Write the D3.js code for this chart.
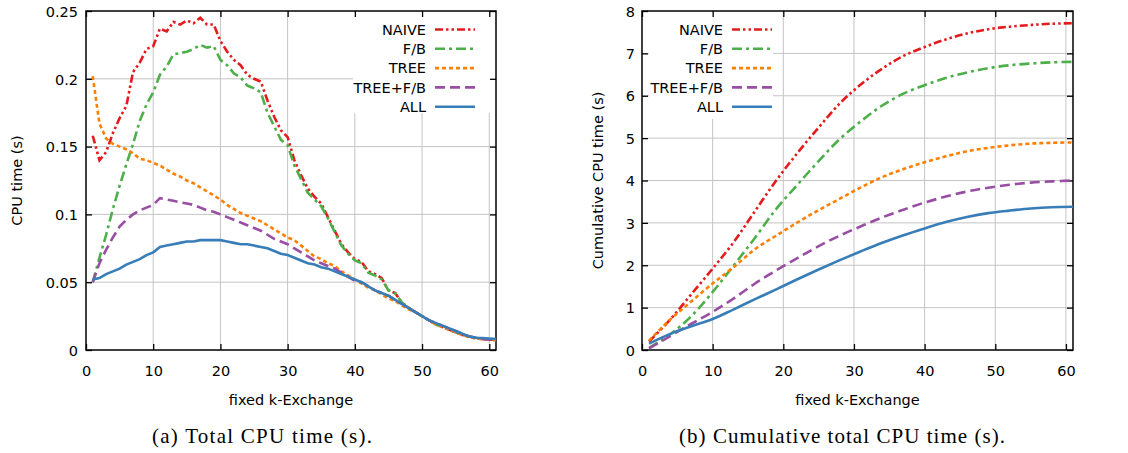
<!DOCTYPE html>
<html>
<head>
<meta charset="utf-8">
<script src="https://cdn.jsdelivr.net/npm/d3@7"></script>
<style>
body { margin: 0; background: #fff; }
text { font-family: "DejaVu Sans", sans-serif; fill: #000; }
.caption { font-family: "Liberation Serif", serif; }
</style>
</head>
<body>
<script>
const width = 1128;
const height = 453;

// series meta
const seriesNames = ["NAIVE", "F/B", "TREE", "TREE+F/B", "ALL"];
const seriesColors = ["#e41a1c", "#4daf4a", "#ff7f00", "#984ea3", "#377eb8"];
const seriesDash = ["8,3,2.5,3,2.5,3", "10,4,3,4", "4,3", "10,5", null];

// (a) total CPU time per k
const kSteps = d3.range(1, 62);
const totalNaive = [0.158,0.140,0.146,0.160,0.171,0.180,0.205,0.212,0.222,0.224,
  0.237,0.235,0.242,0.240,0.243,0.241,0.245,0.240,0.240,0.228,
  0.220,0.214,0.210,0.203,0.200,0.198,0.184,0.172,0.162,0.157,
  0.140,0.129,0.119,0.113,0.108,0.098,0.088,0.078,0.072,0.067,
  0.065,0.058,0.056,0.053,0.044,0.042,0.035,0.031,0.028,0.025,
  0.022,0.019,0.017,0.015,0.013,0.011,0.010,0.009,0.008,0.0078,0.0074];
const totalFB = [0.050,0.068,0.085,0.104,0.121,0.137,0.152,0.169,0.181,0.190,
  0.203,0.209,0.218,0.219,0.220,0.222,0.225,0.223,0.224,0.214,
  0.210,0.204,0.201,0.195,0.193,0.190,0.175,0.165,0.155,0.151,
  0.136,0.126,0.116,0.111,0.106,0.097,0.087,0.077,0.071,0.066,
  0.064,0.057,0.055,0.052,0.044,0.042,0.035,0.031,0.028,0.025,
  0.022,0.019,0.017,0.015,0.013,0.011,0.010,0.009,0.008,0.0078,0.0074];
const totalTree = [0.202,0.167,0.156,0.152,0.150,0.148,0.145,0.141,0.140,0.138,
  0.136,0.133,0.130,0.128,0.125,0.123,0.120,0.117,0.114,0.111,
  0.107,0.104,0.101,0.099,0.097,0.095,0.092,0.089,0.086,0.083,
  0.081,0.077,0.073,0.069,0.067,0.064,0.062,0.058,0.055,0.052,
  0.049,0.046,0.044,0.041,0.038,0.036,0.033,0.030,0.028,0.025,
  0.022,0.019,0.017,0.015,0.013,0.011,0.0095,0.0085,0.008,0.0075,0.0072];
const totalTreeFB = [0.050,0.064,0.074,0.083,0.091,0.096,0.100,0.103,0.105,0.107,
  0.112,0.111,0.110,0.109,0.108,0.107,0.105,0.103,0.102,0.100,
  0.098,0.096,0.094,0.092,0.090,0.088,0.085,0.082,0.080,0.078,
  0.075,0.072,0.069,0.066,0.064,0.062,0.060,0.057,0.054,0.051,
  0.050,0.047,0.044,0.042,0.040,0.037,0.034,0.031,0.028,0.025,
  0.022,0.020,0.018,0.016,0.014,0.012,0.010,0.009,0.0082,0.0076,0.0072];
const totalAll = [0.052,0.053,0.056,0.058,0.060,0.063,0.065,0.067,0.070,0.072,
  0.076,0.077,0.078,0.079,0.080,0.080,0.081,0.081,0.081,0.081,
  0.080,0.079,0.078,0.078,0.077,0.076,0.075,0.073,0.071,0.070,
  0.068,0.066,0.064,0.063,0.061,0.060,0.058,0.056,0.054,0.052,
  0.050,0.047,0.044,0.042,0.040,0.037,0.034,0.031,0.028,0.025,
  0.022,0.020,0.018,0.016,0.014,0.012,0.010,0.009,0.0088,0.0085,0.008];

// (b) cumulative CPU time
const cumK = [1,4,7,10,13,16,19,22,25,28,31,34,37,40,43,46,49,52,55,58,61];
const cumNaive = [0.20,0.72,1.32,1.92,2.55,3.28,4.00,4.65,5.25,5.82,6.27,6.64,6.94,7.15,7.33,7.47,7.57,7.63,7.67,7.70,7.71];
const cumFB = [0.05,0.37,0.80,1.37,2.00,2.65,3.33,3.90,4.46,4.98,5.40,5.77,6.05,6.25,6.42,6.55,6.65,6.72,6.76,6.79,6.80];
const cumTree = [0.22,0.72,1.15,1.57,1.96,2.38,2.70,3.01,3.30,3.57,3.84,4.08,4.27,4.43,4.57,4.69,4.77,4.83,4.87,4.89,4.90];
const cumTreeFB = [0.04,0.33,0.62,0.90,1.22,1.57,1.88,2.17,2.45,2.70,2.92,3.13,3.31,3.48,3.62,3.74,3.83,3.90,3.95,3.98,4.00];
const cumAll = [0.15,0.38,0.56,0.73,0.96,1.20,1.43,1.67,1.90,2.12,2.33,2.53,2.71,2.87,3.02,3.14,3.23,3.29,3.34,3.37,3.38];

const xTicks = [0, 10, 20, 30, 40, 50, 60];
const yTicksA = [0, 0.05, 0.1, 0.15, 0.2, 0.25];
const yTicksB = [0, 1, 2, 3, 4, 5, 6, 7, 8];

const svg = d3.select('body')
  .append('svg')
  .attr('width', width)
  .attr('height', height);

function drawPanel(p) {
  const x = d3.scaleLinear().domain([0, 61]).range([p.left, p.right]);
  const y = d3.scaleLinear().domain(p.yDomain).range([350, 11]);
  const g = svg.append('g');
  const top = y.range()[1], bottom = y.range()[0];

  // grid
  g.selectAll('.gx').data(xTicks.filter(d => d > 0)).join('line')
    .attr('x1', d => x(d)).attr('x2', d => x(d))
    .attr('y1', bottom).attr('y2', top)
    .attr('stroke', '#c4c4c4').attr('stroke-width', 1);
  g.selectAll('.gy').data(p.yTicks.filter(d => d > p.yDomain[0] && d < p.yDomain[1])).join('line')
    .attr('x1', p.left).attr('x2', p.right)
    .attr('y1', d => y(d)).attr('y2', d => y(d))
    .attr('stroke', '#c4c4c4').attr('stroke-width', 1);

  // legend background
  g.append('rect')
    .attr('x', p.legendBox[0]).attr('y', top + 1)
    .attr('width', p.legendBox[1] - p.legendBox[0])
    .attr('height', p.legendBox[2] - top)
    .attr('fill', '#fff');

  // axes with inward ticks
  const axes = [
    [d3.axisBottom(x).tickValues(xTicks).tickSize(-6).tickPadding(16), `translate(0,${bottom})`, false],
    [d3.axisTop(x).tickValues(xTicks).tickSize(-6).tickFormat(''), `translate(0,${top})`, false],
    [d3.axisLeft(y).tickValues(p.yTicks).tickSize(-6).tickPadding(p.yPad).tickFormat(p.yFormat), `translate(${p.left},0)`, true],
    [d3.axisRight(y).tickValues(p.yTicks).tickSize(-6).tickFormat(''), `translate(${p.right},0)`, false]
  ];
  axes.forEach(([ax, tr, isLeft]) => {
    const a = g.append('g').attr('transform', tr).call(ax);
    a.select('.domain').remove();
    a.selectAll('line').attr('stroke', '#000').attr('stroke-width', 1.3);
    a.selectAll('text').attr('font-size', '14.5px').attr('font-family', '"DejaVu Sans", sans-serif').attr('fill', '#000');
    if (isLeft) a.selectAll('text').attr('dy', '0.36em');
  });

  // frame
  g.append('rect')
    .attr('x', p.left).attr('y', top)
    .attr('width', p.right - p.left).attr('height', bottom - top)
    .attr('fill', 'none').attr('stroke', '#000').attr('stroke-width', 1.5);

  // series lines
  const line = d3.line()
    .x(d => x(d[0])).y(d => y(d[1]))
    .curve(p.curve);
  p.series.forEach((vals, i) => {
    g.append('path')
      .datum(p.xs.map((k, j) => [k, vals[j]]))
      .attr('d', line)
      .attr('fill', 'none')
      .attr('stroke', seriesColors[i])
      .attr('stroke-width', 2.6)
      .attr('stroke-dasharray', seriesDash[i]);
  });

  // legend
  seriesNames.forEach((name, i) => {
    const ly = 29.5 + i * 19.3;
    g.append('text')
      .attr('x', p.legendX).attr('y', ly).attr('dy', '0.36em')
      .attr('text-anchor', 'end')
      .attr('font-size', '14.5px')
      .text(name);
    g.append('line')
      .attr('x1', p.legendX + 9).attr('x2', p.legendX + 49)
      .attr('y1', ly).attr('y2', ly)
      .attr('stroke', seriesColors[i])
      .attr('stroke-width', 2.6)
      .attr('stroke-dasharray', seriesDash[i]);
  });

  // axis titles
  g.append('text')
    .attr('x', (p.left + p.right) / 2).attr('y', 405)
    .attr('text-anchor', 'middle').attr('font-size', '14.5px')
    .text('fixed k-Exchange');
  g.append('text')
    .attr('transform', `translate(${p.yLabelX},${(top + bottom) / 2}) rotate(-90)`)
    .attr('text-anchor', 'middle').attr('font-size', '14.5px')
    .text(p.yLabel);

  // caption
  g.append('text')
    .attr('class', 'caption')
    .attr('x', p.captionX).attr('y', 443)
    .attr('text-anchor', 'middle')
    .attr('font-size', '21px')
    .attr('textLength', p.captionLen)
    .attr('lengthAdjust', 'spacing')
    .text(p.caption);
}

drawPanel({
  left: 86, right: 496,
  yDomain: [0, 0.25], yTicks: yTicksA, yPad: 8,
  yFormat: d => d === 0 ? '0' : String(+d.toFixed(2)),
  xs: kSteps,
  series: [totalNaive, totalFB, totalTree, totalTreeFB, totalAll],
  curve: d3.curveLinear,
  legendX: 426, legendBox: [353, 495, 112],
  yLabel: 'CPU time (s)', yLabelX: 22,
  caption: '(a) Total CPU time (s).', captionX: 262, captionLen: 220
});

drawPanel({
  left: 642, right: 1073,
  yDomain: [0, 8], yTicks: yTicksB, yPad: 7,
  yFormat: d3.format('d'),
  xs: cumK,
  series: [cumNaive, cumFB, cumTree, cumTreeFB, cumAll],
  curve: d3.curveCatmullRom.alpha(0.5),
  legendX: 723, legendBox: [649, 773, 118],
  yLabel: 'Cumulative CPU time (s)', yLabelX: 603,
  caption: '(b) Cumulative total CPU time (s).', captionX: 842, captionLen: 326
});
</script>
</body>
</html>
